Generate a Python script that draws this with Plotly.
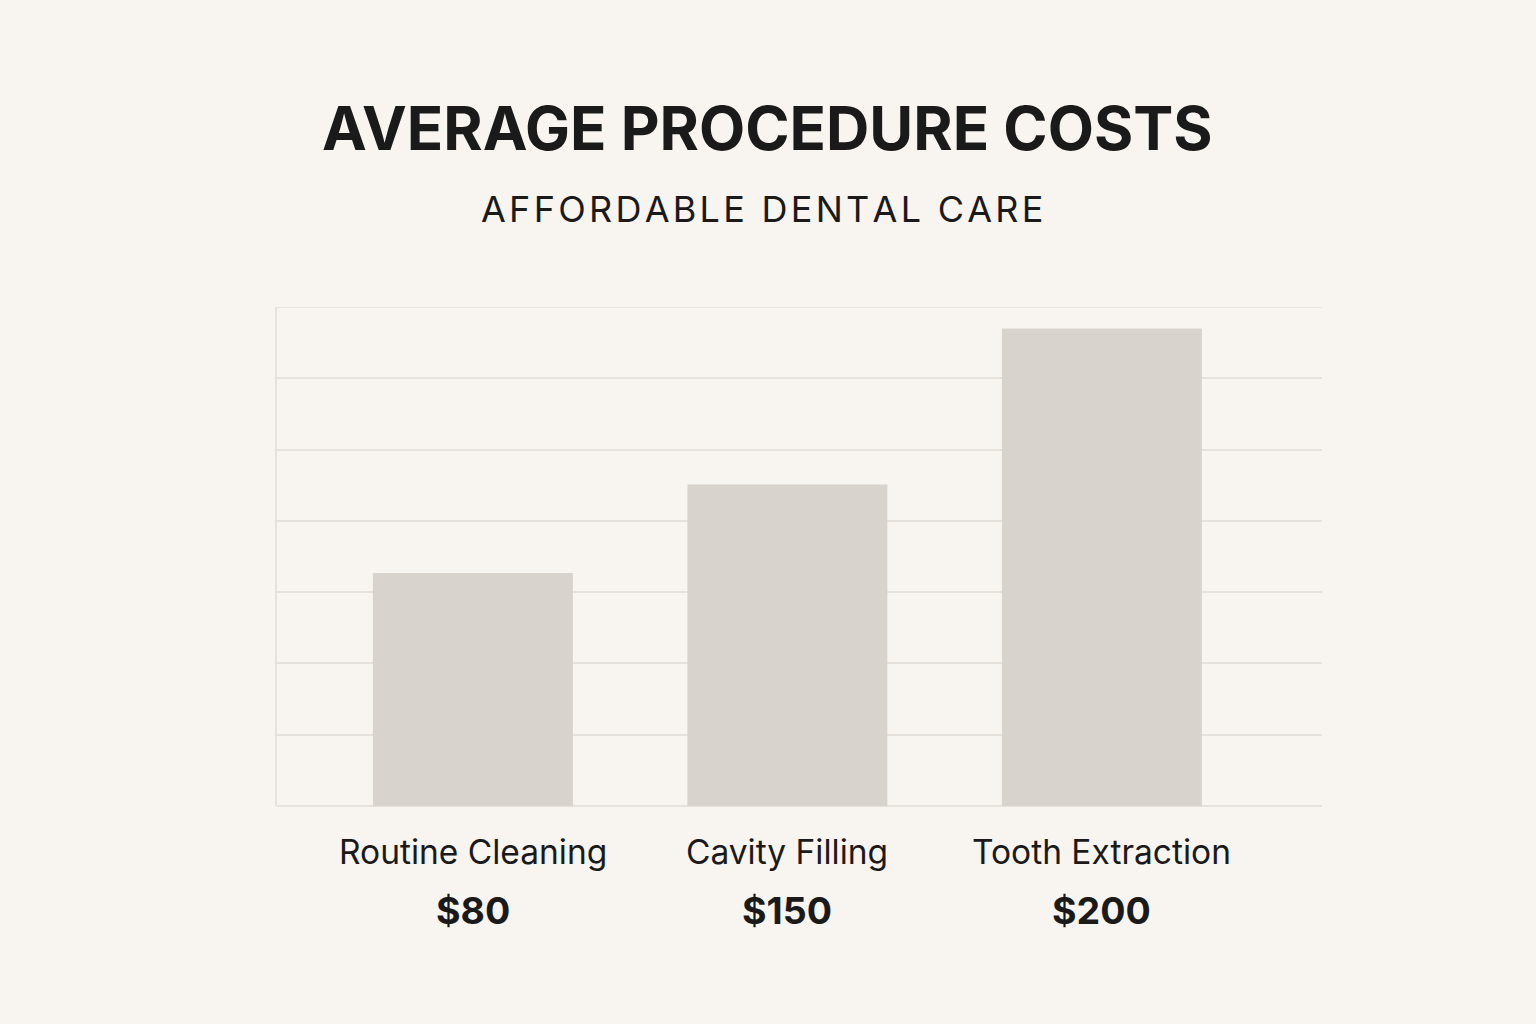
import plotly.graph_objects as go

categories = ["Routine Cleaning", "Cavity Filling", "Tooth Extraction"]
prices = ["$80", "$150", "$200"]
# bar heights, in gridline units (7 gridline steps)
bar_levels = [3.27, 4.51, 6.70]

title = "AVERAGE PROCEDURE COSTS"
subtitle = "AFFORDABLE DENTAL CARE"

BG = "#f8f5f0"
BAR = "#d8d3cc"
GRID = "#e6e1da"
INK = "#1a1a1a"
FONT = "Inter"

fig = go.Figure(go.Bar(
    x=list(range(len(categories))),
    y=bar_levels,
    width=0.636,
    marker=dict(color=BAR, line=dict(width=0)),
    hoverinfo="skip",
))

plot_top, plot_bot = 307, 806
def ypaper(px):
    return (plot_bot - px) / (plot_bot - plot_top)
x_l, x_r = 277, 1322
def xpaper(px):
    return (px - x_l) / (x_r - x_l)

ann = []
for i, (c, p) in enumerate(zip(categories, prices)):
    ann.append(dict(x=i, y=ypaper(852), xref="x", yref="paper", text=c, showarrow=False,
                    font=dict(family=FONT, size=33.5, color=INK), xanchor="center", yanchor="middle"))
    ann.append(dict(x=i, y=ypaper(911), xref="x", yref="paper", text=p, showarrow=False,
                    font=dict(family=FONT, size=37.5, color=INK, weight=700), xanchor="center", yanchor="middle"))

HS = "\u200a"
ann.append(dict(x=xpaper(767), y=ypaper(128), xref="paper", yref="paper", text=title,
                showarrow=False, xanchor="center", yanchor="middle",
                font=dict(family=FONT, size=60, color=INK, weight=700)))
ann.append(dict(x=xpaper(762), y=ypaper(209), xref="paper", yref="paper",
                text=HS.join(list(subtitle)),
                showarrow=False, xanchor="center", yanchor="middle",
                font=dict(family=FONT, size=36, color=INK, weight=400)))

fig.update_layout(
    width=1536, height=1024,
    paper_bgcolor=BG, plot_bgcolor=BG,
    margin=dict(l=277, r=214, t=307, b=218),
    showlegend=False,
    xaxis=dict(range=[-0.623, 2.700], showticklabels=False, showgrid=False,
               zeroline=False, showline=False, fixedrange=True),
    yaxis=dict(range=[0, 7], dtick=1, showticklabels=False, showgrid=True,
               gridcolor=GRID, gridwidth=1.5, zeroline=True, zerolinecolor=GRID,
               zerolinewidth=1.5, showline=True, linecolor=GRID, linewidth=1.5,
               mirror=False, fixedrange=True),
    annotations=ann,
)
fig.add_hline(y=7, line=dict(color=GRID, width=1.5), layer="below")

fig.write_html("out.html")
